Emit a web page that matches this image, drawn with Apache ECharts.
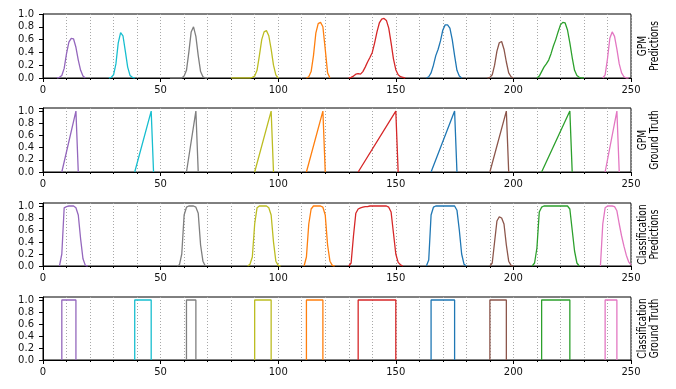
<!DOCTYPE html>
<html>
<head>
<meta charset="utf-8">
<script src="https://cdn.jsdelivr.net/npm/echarts@6/dist/echarts.min.js"></script>
<style>
  html, body { margin: 0; padding: 0; background: #fff; }
  #chart { width: 676px; height: 389px; }
</style>
</head>
<body>
<div id="chart"></div>
<script>
// one colour per event, left to right
const colors = ['#9467bd', '#17becf', '#7f7f7f', '#bcbd22', '#ff7f0e',
                '#d62728', '#1f77b4', '#8c564b', '#2ca02c', '#e377c2']

const panelNames = ['GPM\nPredictions', 'GPM\nGround Truth',
                    'Classification\nPredictions', 'Classification\nGround Truth']

// GPM predictions: first x of each bump, then one value per frame
const gpmPredStart = [6, 28, 54, 80, 112, 130, 163, 189, 210, 238]
const gpmPredValues = [
  [0, 0.01, 0.04, 0.15, 0.38, 0.56, 0.62, 0.61, 0.48, 0.28, 0.12, 0.03, 0],
  [0, 0.01, 0.05, 0.22, 0.55, 0.71, 0.66, 0.42, 0.17, 0.04, 0.01, 0],
  [0, 0, 0, 0, 0, 0, 0.03, 0.12, 0.4, 0.72, 0.8, 0.65, 0.35, 0.1, 0.02, 0, 0],
  [0, 0, 0, 0, 0, 0, 0, 0, 0, 0.01, 0.03, 0.12, 0.35, 0.6, 0.72, 0.74, 0.66, 0.45, 0.2, 0.05, 0],
  [0, 0.02, 0.1, 0.35, 0.7, 0.85, 0.87, 0.8, 0.45, 0.08, 0],
  [0, 0.01, 0.03, 0.06, 0.07, 0.06, 0.1, 0.17, 0.25, 0.32, 0.4, 0.55, 0.72, 0.86, 0.92, 0.93, 0.9, 0.78, 0.55, 0.3, 0.13, 0.05, 0.02, 0.01, 0],
  [0, 0.02, 0.08, 0.2, 0.35, 0.45, 0.58, 0.75, 0.83, 0.83, 0.78, 0.6, 0.35, 0.12, 0.03, 0],
  [0, 0.01, 0.05, 0.2, 0.42, 0.55, 0.57, 0.45, 0.25, 0.08, 0.02, 0],
  [0, 0.03, 0.1, 0.17, 0.22, 0.28, 0.38, 0.5, 0.6, 0.72, 0.83, 0.87, 0.86, 0.75, 0.55, 0.32, 0.12, 0.04, 0.01, 0, 0],
  [0, 0.05, 0.3, 0.62, 0.72, 0.65, 0.45, 0.22, 0.08, 0.02, 0, 0]
]

// ground truth events: onset, last frame, first frame after
const truthStart = [8, 39, 61, 90, 112, 134, 165, 190, 212, 239]
const truthEnd = [14, 46, 65, 97, 119, 150, 175, 197, 224, 244]
const truthDrop = [15, 47, 66, 98, 120, 151, 176, 198, 225, 245]

// classification predictions (no cyan event predicted)
const clsPredStart = [7, null, 57, 87, 111, 130, 163, 190, 208, 237]
const clsPredValues = [
  [0, 0.2, 0.97, 0.99, 1, 1, 1, 0.97, 0.85, 0.45, 0.12, 0.01, 0],
  [],
  [0, 0.02, 0.2, 0.85, 0.98, 1, 1, 1, 0.98, 0.88, 0.35, 0.08, 0],
  [0, 0.03, 0.15, 0.7, 0.97, 1, 1, 1, 1, 0.97, 0.85, 0.4, 0.08, 0.01, 0],
  [0, 0.15, 0.7, 0.95, 1, 1, 1, 1, 0.98, 0.85, 0.35, 0.08, 0.01, 0],
  [0, 0.05, 0.5, 0.88, 0.95, 0.97, 0.98, 0.99, 0.99, 1, 1, 1, 1, 1, 1, 1, 1, 0.98, 0.9, 0.55, 0.2, 0.06, 0.02, 0],
  [0, 0.1, 0.85, 0.98, 1, 1, 1, 1, 1, 1, 1, 1, 1, 0.93, 0.6, 0.2, 0.03, 0],
  [0, 0.05, 0.4, 0.75, 0.82, 0.8, 0.7, 0.35, 0.08, 0.01, 0],
  [0, 0.05, 0.3, 0.9, 0.98, 1, 1, 1, 1, 1, 1, 1, 1, 1, 1, 1, 0.95, 0.6, 0.25, 0.05, 0],
  [0, 0.7, 0.97, 1, 1, 1, 0.99, 0.92, 0.7, 0.5, 0.33, 0.18, 0.07, 0.02]
]

const xMax = 250
const yMax = [1.0, 1.05, 1.05, 1.05]

const chart = echarts.init(document.getElementById('chart'))

const font = 'DejaVu Sans'
const grids = [
  { top: 14, height: 64 },
  { top: 108, height: 64 },
  { top: 203, height: 63 },
  { top: 297, height: 63 }
]

function seg(start, vals) {
  return vals.map((v, k) => [start + k, v])
}

function line(gi, color, data) {
  return {
    type: 'line', xAxisIndex: gi, yAxisIndex: gi, data: data,
    showSymbol: false, symbol: 'none', silent: true,
    lineStyle: { color: color, width: 1.3 }
  }
}

const series = []
colors.forEach((c, i) => {
  series.push(line(0, c, seg(gpmPredStart[i], gpmPredValues[i])))
  series.push(line(1, c, [[truthStart[i], 0], [truthEnd[i], 1], [truthDrop[i], 0]]))
  if (clsPredValues[i].length) series.push(line(2, c, seg(clsPredStart[i], clsPredValues[i])))
  series.push(line(3, c, [[truthStart[i], 0], [truthStart[i], 1], [truthEnd[i], 1], [truthEnd[i], 0]]))
})

const dotted = { color: '#a8a8a8', type: [1, 2], width: 1 }

chart.setOption({
  animation: false,
  grid: grids.map(g => ({
    left: 43, right: 45, top: g.top, height: g.height,
    show: true, borderColor: '#000', borderWidth: 1, backgroundColor: 'transparent'
  })),
  xAxis: grids.map((g, i) => ({
    gridIndex: i, type: 'value', min: 0, max: xMax, interval: 50,
    axisLine: { show: true, onZero: false, lineStyle: { color: '#000', width: 1 } },
    axisTick: { show: true, length: 4, lineStyle: { color: '#000' } },
    minorTick: { show: true, splitNumber: 5, length: 2, lineStyle: { color: '#000' } },
    splitLine: { show: true, lineStyle: dotted },
    minorSplitLine: { show: true, lineStyle: dotted },
    axisLabel: { color: '#111', fontFamily: font, fontSize: 10, margin: 7 }
  })),
  yAxis: grids.map((g, i) => ({
    gridIndex: i, type: 'value', min: 0, max: yMax[i], interval: 0.2,
    axisLine: { show: true, lineStyle: { color: '#000', width: 1 } },
    axisTick: { show: true, length: 4, lineStyle: { color: '#000' } },
    splitLine: { show: false },
    axisLabel: {
      color: '#111', fontFamily: font, fontSize: 10, margin: 9,
      formatter: v => Math.abs(v * 5 - Math.round(v * 5)) < 1e-6 ? v.toFixed(1) : ''
    }
  })),
  graphic: panelNames.map((t, i) => ({
    type: 'text', x: 649, y: grids[i].top + grids[i].height / 2,
    rotation: Math.PI / 2, scaleX: 0.76,
    style: {
      text: t, fill: '#000', fontFamily: font, fontSize: 12, lineHeight: 12.5,
      align: 'center', verticalAlign: 'middle',
      textAlign: 'center', textVerticalAlign: 'middle'
    }
  })),
  series: series
})
</script>
</body>
</html>
